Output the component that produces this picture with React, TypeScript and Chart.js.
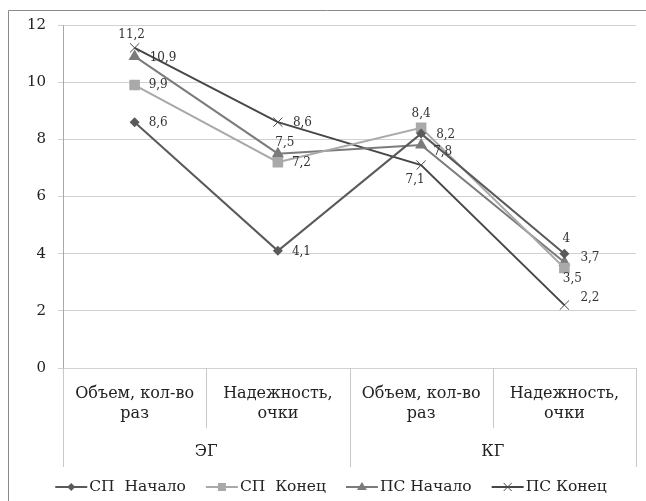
import React, { useEffect, useRef } from "react";
import { Chart, registerables } from "chart.js";

Chart.register(...registerables);

// Two-level category axis: indicator per test group
const categories: string[][] = [
  ["Объем, кол-во", "раз"],
  ["Надежность,", "очки"],
  ["Объем, кол-во", "раз"],
  ["Надежность,", "очки"],
];
const groups = ["ЭГ", "КГ"];
const groupSpan = 2;

const seriesNames = ["СП  Начало", "СП  Конец", "ПС Начало", "ПС Конец"];
const spStart = [8.6, 4.1, 8.2, 4];
const spEnd = [9.9, 7.2, 8.4, 3.5];
const psStart = [10.9, 7.5, 7.8, 3.7];
const psEnd = [11.2, 8.6, 7.1, 2.2];

const yTicks = [0, 2, 4, 6, 8, 10, 12];

// Visual styling per series
const colors = ["#5a5a5a", "#a9a9a9", "#7b7b7b", "#474747"];
const pointStyles = ["rectRot", "rect", "triangle", "crossRot"] as const;
const pointRadii = [5, 7.5, 7, 6.5];

// Label offsets [dx, dy, align] relative to each point
type Off = [number, number, CanvasTextAlign];
const labelOffsets: Off[][] = [
  [[14, 1, "left"], [14, 1, "left"], [15, 1, "left"], [2, -15, "center"]],
  [[14, 0, "left"], [14, 1, "left"], [0, -14, "center"], [8, 11, "center"]],
  [[15, 1, "left"], [7, -11, "center"], [12, 7, "left"], [16, -4, "left"]],
  [[-3, -13, "center"], [15, 1, "left"], [-6, 15, "center"], [16, -7, "left"]],
];

const FONT = "'DejaVu Serif', serif";

const fmt = (v: number) => String(v).replace(".", ",");

const decorPlugin = {
  id: "decor",
  afterDatasetsDraw(chart: any) {
    const ctx: CanvasRenderingContext2D = chart.ctx;
    ctx.save();
    ctx.font = `12px ${FONT}`;
    ctx.fillStyle = "#333";
    ctx.textBaseline = "middle";
    chart.data.datasets.forEach((ds: any, i: number) => {
      const meta = chart.getDatasetMeta(i);
      meta.data.forEach((pt: any, j: number) => {
        const [dx, dy, align] = labelOffsets[i][j];
        ctx.textAlign = align;
        ctx.fillText(fmt(ds.data[j]), pt.x + dx, pt.y + dy);
      });
    });
    ctx.restore();
  },
  afterDraw(chart: any) {
    const ctx: CanvasRenderingContext2D = chart.ctx;
    const area = chart.chartArea;
    const xs = chart.scales.x;
    const n = categories.length;
    const step = (area.right - area.left) / n;
    ctx.save();

    // outer frame (top and left edges)
    ctx.strokeStyle = "#8a8a8a";
    ctx.lineWidth = 1;
    ctx.beginPath();
    ctx.moveTo(8.5, 501);
    ctx.lineTo(8.5, 10.5);
    ctx.lineTo(646, 10.5);
    ctx.stroke();

    // category dividers below the axis
    ctx.strokeStyle = "#c8c8c8";
    for (let k = 0; k <= n; k++) {
      const x = Math.round(xs.getPixelForValue(k) - step / 2) + 0.5;
      const isGroupEdge = k % groupSpan === 0;
      ctx.beginPath();
      ctx.moveTo(x, area.bottom);
      ctx.lineTo(x, isGroupEdge ? area.bottom + 99 : area.bottom + 60);
      ctx.stroke();
    }

    // group labels
    ctx.fillStyle = "#222";
    ctx.font = `16px ${FONT}`;
    ctx.textAlign = "center";
    ctx.textBaseline = "middle";
    groups.forEach((g, gi) => {
      const a = xs.getPixelForValue(gi * groupSpan);
      const b = xs.getPixelForValue(gi * groupSpan + groupSpan - 1);
      ctx.fillText(g, (a + b) / 2, area.bottom + 84);
    });

    // legend: line with marker, then name
    const lineLen = 32;
    const gap = 20;
    ctx.font = `15.5px ${FONT}`;
    const widths = seriesNames.map((s) => ctx.measureText(s).width);
    const total =
      widths.reduce((s, w) => s + w + lineLen + 2, 0) + gap * (seriesNames.length - 1);
    let x = 331 - total / 2;
    const ly = 487;
    seriesNames.forEach((name, i) => {
      ctx.strokeStyle = colors[i];
      ctx.lineWidth = 2;
      ctx.beginPath();
      ctx.moveTo(x, ly);
      ctx.lineTo(x + lineLen, ly);
      ctx.stroke();
      drawMarker(ctx, pointStyles[i], x + lineLen / 2, ly, colors[i]);
      ctx.fillStyle = "#222";
      ctx.textAlign = "left";
      ctx.fillText(name, x + lineLen + 2, ly);
      x += lineLen + 2 + widths[i] + gap;
    });
    ctx.restore();
  },
};

function drawMarker(
  ctx: CanvasRenderingContext2D,
  style: string,
  x: number,
  y: number,
  color: string
) {
  ctx.save();
  ctx.fillStyle = color;
  ctx.strokeStyle = color;
  ctx.lineWidth = 1;
  ctx.beginPath();
  if (style === "rectRot") {
    ctx.moveTo(x, y - 4);
    ctx.lineTo(x + 4, y);
    ctx.lineTo(x, y + 4);
    ctx.lineTo(x - 4, y);
    ctx.closePath();
    ctx.fill();
  } else if (style === "rect") {
    ctx.rect(x - 4, y - 4, 8, 8);
    ctx.fill();
  } else if (style === "triangle") {
    ctx.moveTo(x, y - 5);
    ctx.lineTo(x + 5, y + 3);
    ctx.lineTo(x - 5, y + 3);
    ctx.closePath();
    ctx.fill();
  } else {
    ctx.moveTo(x - 4, y - 4);
    ctx.lineTo(x + 4, y + 4);
    ctx.moveTo(x + 4, y - 4);
    ctx.lineTo(x - 4, y + 4);
    ctx.stroke();
  }
  ctx.restore();
}

export default function App() {
  const ref = useRef<HTMLCanvasElement | null>(null);

  useEffect(() => {
    if (!ref.current) return;
    const seriesValues = [spStart, spEnd, psStart, psEnd];
    const chart = new Chart(ref.current, {
      type: "line",
      data: {
        labels: categories,
        datasets: seriesNames.map((name, i) => ({
          label: name,
          data: seriesValues[i],
          borderColor: colors[i],
          backgroundColor: colors[i],
          borderWidth: 2,
          pointStyle: pointStyles[i],
          pointRadius: pointRadii[i],
          pointBorderWidth: pointStyles[i] === "crossRot" ? 1 : 0,
          pointBorderColor: colors[i],
          pointBackgroundColor: colors[i],
          tension: 0,
        })),
      },
      options: {
        animation: false,
        responsive: false,
        layout: { padding: { top: 25, right: 10, left: 0, bottom: 0 } },
        plugins: {
          legend: { display: false },
          tooltip: { enabled: false },
        },
        scales: {
          x: {
            type: "category",
            offset: true,
            grid: { display: false },
            border: { display: false },
            ticks: {
              color: "#222",
              font: { family: FONT, size: 16, lineHeight: 1.25 },
              padding: 8,
              maxRotation: 0,
              autoSkip: false,
            },
            afterFit: (s: any) => {
              s.height = 133;
            },
          },
          y: {
            min: 0,
            max: 12,
            afterBuildTicks: (s: any) => {
              s.ticks = yTicks.map((v) => ({ value: v }));
            },
            grid: {
              color: "#d2d2d2",
              lineWidth: 1,
              tickLength: 5,
            },
            border: { display: true, color: "#a8a8a8" },
            ticks: {
              color: "#222",
              font: { family: FONT, size: 15 },
              padding: 12,
            },
            afterFit: (s: any) => {
              s.width = 63;
            },
          },
        },
      },
      plugins: [decorPlugin],
    });
    return () => chart.destroy();
  }, []);

  return (
    <div style={{ position: "fixed", left: 0, top: 0, width: 646, height: 501, background: "#fff" }}>
      <canvas ref={ref} width={646} height={501} />
    </div>
  );
}
